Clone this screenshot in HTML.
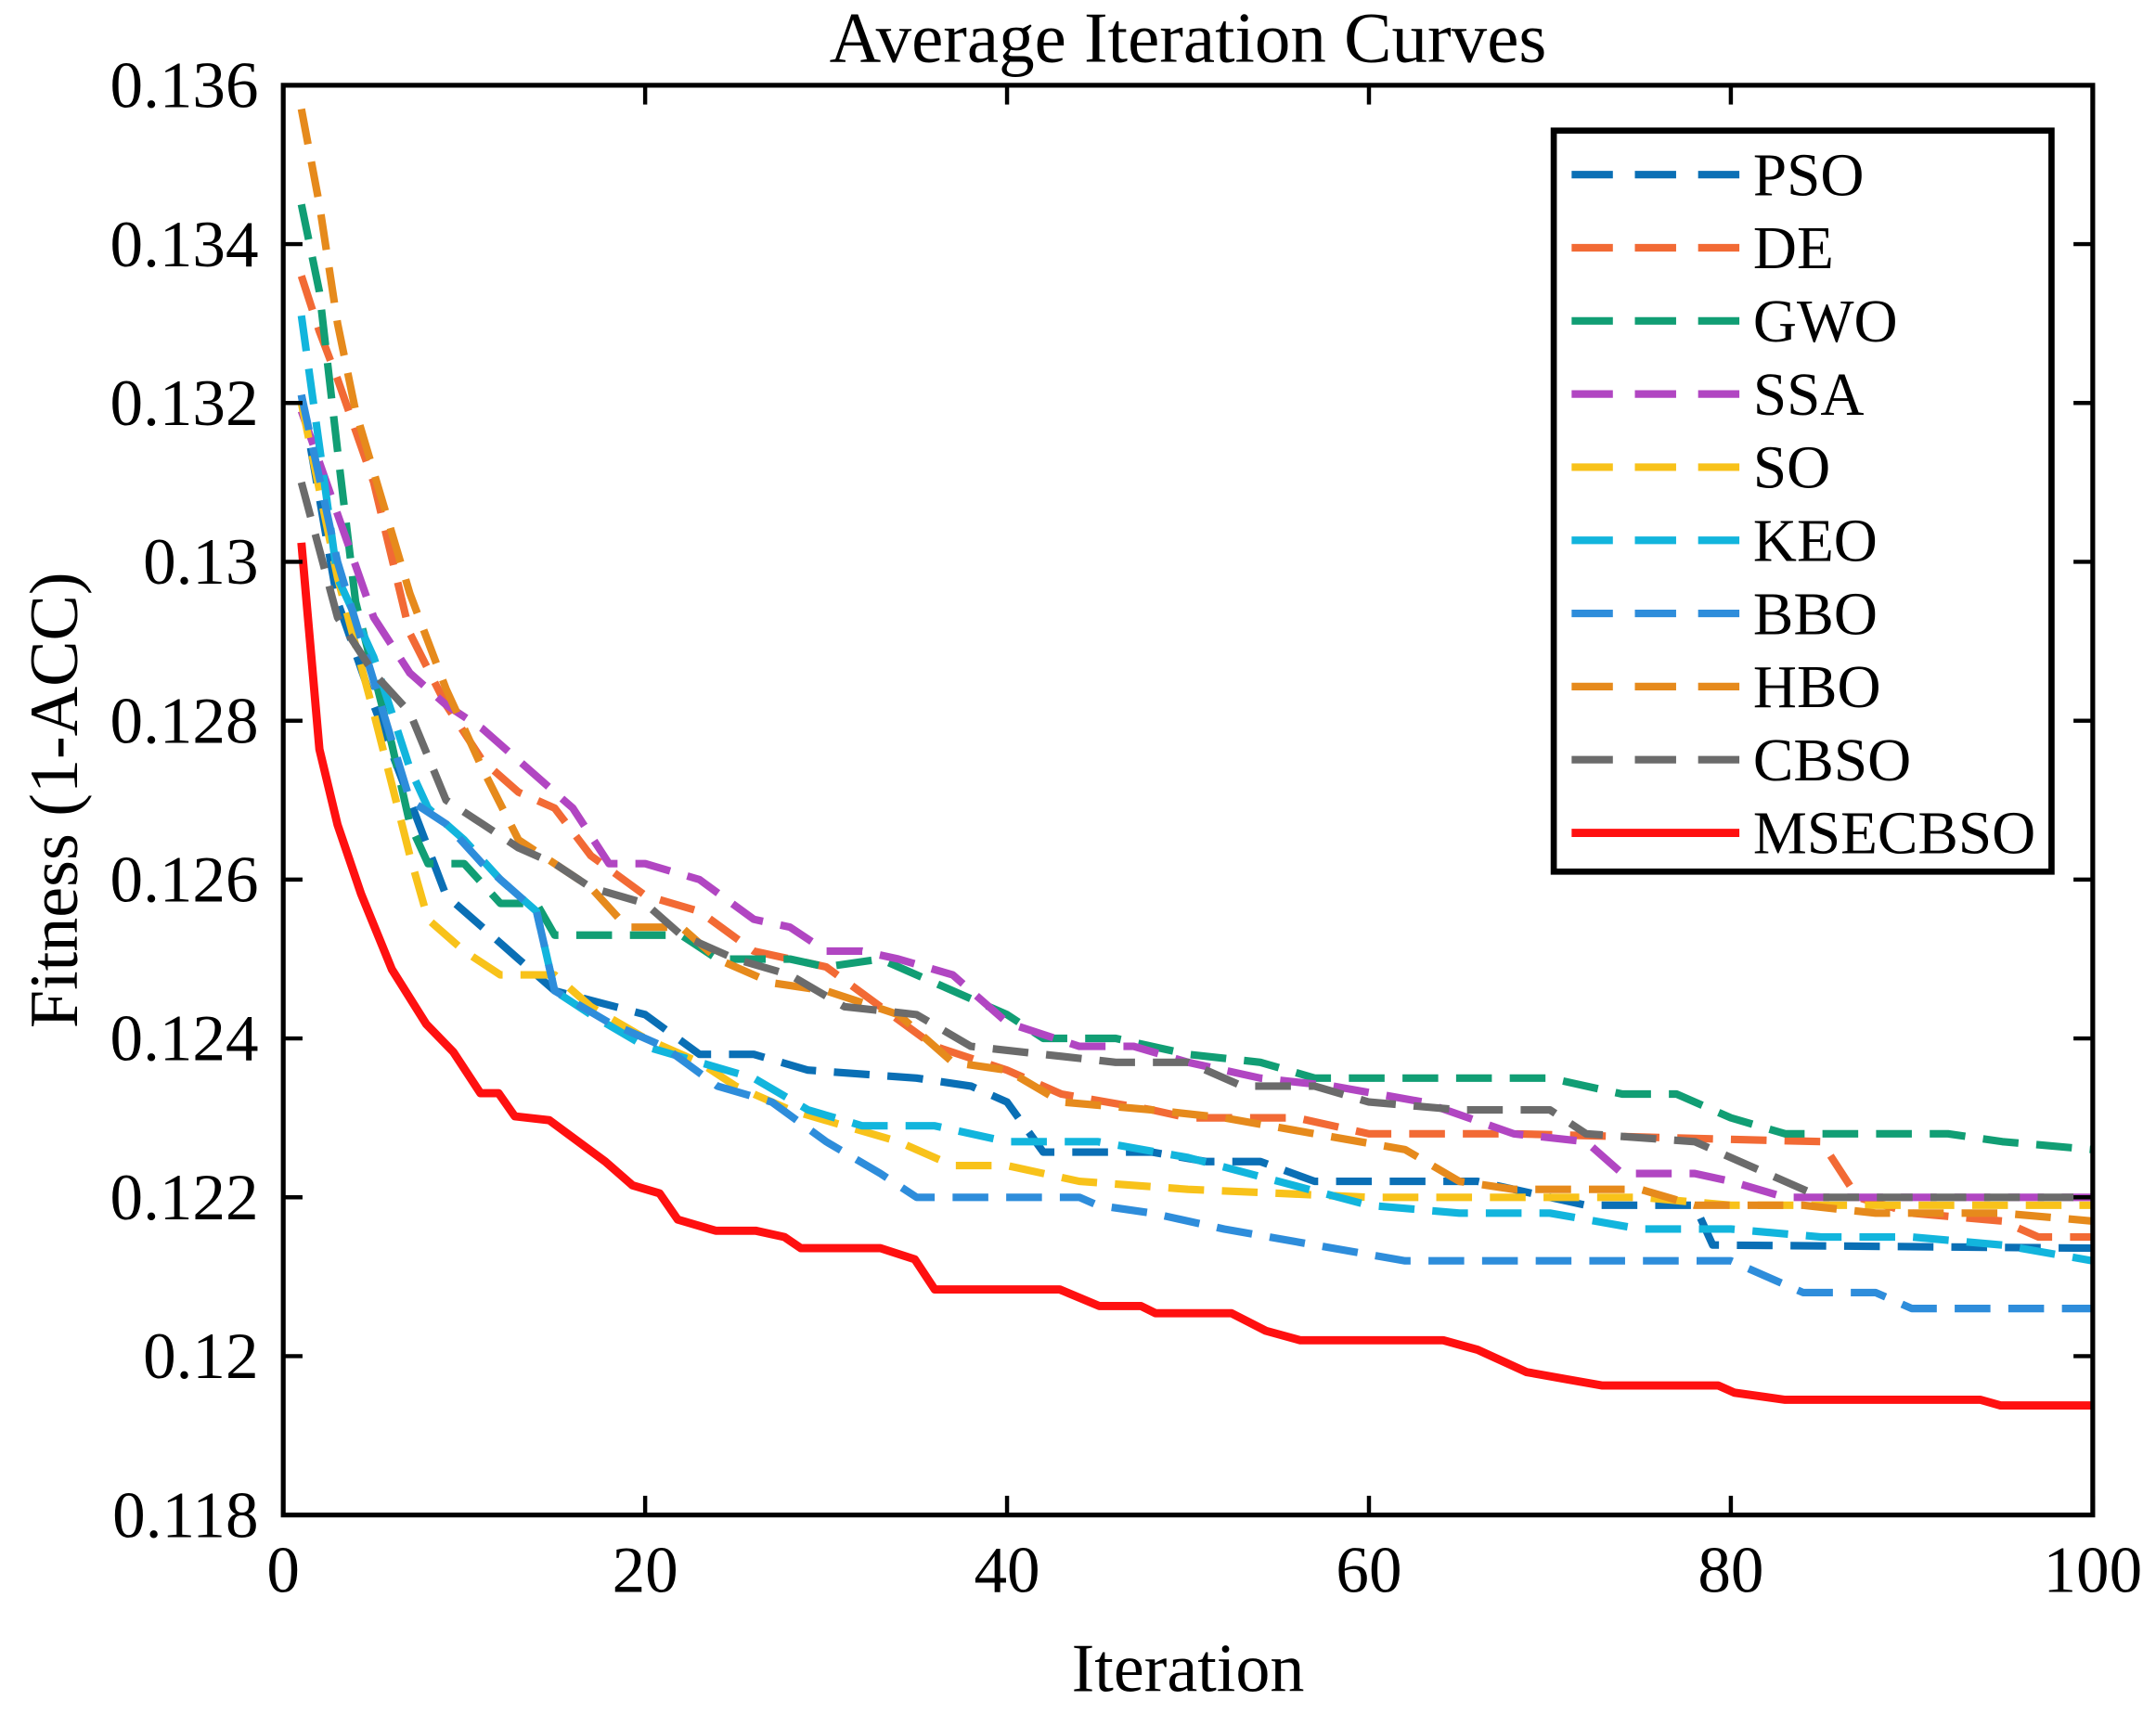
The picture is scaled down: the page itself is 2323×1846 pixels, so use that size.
<!DOCTYPE html>
<html>
<head>
<meta charset="utf-8">
<style>
  html,body{margin:0;padding:0;background:#fff;}
  svg{display:block;}
  text{font-family:"Liberation Serif",serif;fill:#000;}
</style>
</head>
<body>
<svg id="chart" width="2323" height="1846" viewBox="0 0 1568 1246" xmlns="http://www.w3.org/2000/svg">
  <rect x="0" y="0" width="1568" height="1246" fill="#fff"/>
  <text x="864" y="45" font-size="52" text-anchor="middle">Average Iteration Curves</text>
  <g id="plot"></g>
  <g id="axes"></g>
  <text x="864" y="1230" font-size="50" text-anchor="middle">Iteration</text>
  <text transform="translate(56,582) rotate(-90)" font-size="50" text-anchor="middle">Fitness (1-ACC)</text>
  <g id="legend"></g>
</svg>
<script>
const xTicks = [0, 20, 40, 60, 80, 100];
const yTicks = [0.118, 0.12, 0.122, 0.124, 0.126, 0.128, 0.13, 0.132, 0.134, 0.136];
const yTickLabels = ["0.118", "0.12", "0.122", "0.124", "0.126", "0.128", "0.13", "0.132", "0.134", "0.136"];
const seriesNames = ["PSO", "DE", "GWO", "SSA", "SO", "KEO", "BBO", "HBO", "CBSO", "MSECBSO"];

const psoX = [1,3,5,7,9,11,13,15,20,23,26,29,35,38,40,42,48,51,54,57,66,70,72,78,79,100];
const psoY = [0.1321,0.1295,0.1282,0.1270,0.1258,0.1254,0.1250,0.1246,0.1243,0.1238,0.1238,0.1236,0.1235,0.1234,0.1232,0.12257,0.12257,0.12245,0.12245,0.1222,0.1222,0.1220,0.1219,0.1219,0.1214,0.12136];

const deX = [1,2,3,5,7,9,11,13,15,17,20,23,26,30,33,36,40,43,48,50,56,60,64,68,85,87,90,95,97,100];
const deY = [0.1336,0.1329,0.1323,0.1310,0.1291,0.1282,0.1275,0.1271,0.1269,0.1263,0.1258,0.1256,0.1251,0.1249,0.1244,0.1239,0.1236,0.1233,0.1231,0.1230,0.1230,0.1228,0.1228,0.1228,0.1227,0.1220,0.1218,0.1217,0.1215,0.1215];

const gwoX = [1,2,3,4,6,7,8,10,12,14,15,20,22,24,28,30,33,36,40,42,46,50,54,57,70,74,77,80,83,92,95,100];
const gwoY = [0.1345,0.1334,0.1314,0.1295,0.1277,0.1267,0.1262,0.1262,0.1257,0.1257,0.1253,0.1253,0.1253,0.1250,0.1250,0.1249,0.1250,0.1247,0.1243,0.1240,0.1240,0.1238,0.1237,0.1235,0.1235,0.1233,0.1233,0.1230,0.1228,0.1228,0.1227,0.1226];

const ssaX = [1,3,5,7,9,11,13,16,18,20,23,26,28,30,32,34,37,40,44,47,50,54,58,63,68,72,74,78,80,83,100];
const ssaY = [0.1319,0.1306,0.1293,0.1286,0.1282,0.1279,0.1275,0.1269,0.1262,0.1262,0.1260,0.1255,0.1254,0.1251,0.1251,0.1250,0.1248,0.1242,0.1239,0.1239,0.1237,0.1235,0.1234,0.1232,0.1228,0.1227,0.1223,0.1223,0.1222,0.1220,0.1220];

const soX = [1,3,5,7,8,10,12,15,17,20,23,25,28,31,34,37,40,44,50,60,70,75,80,83,100];
const soY = [0.1320,0.1298,0.1281,0.1263,0.1255,0.1251,0.1248,0.1248,0.1244,0.1240,0.1237,0.1234,0.1231,0.1229,0.1227,0.1224,0.1224,0.1222,0.1221,0.1220,0.1220,0.1220,0.1219,0.1219,0.1219];

const keoX = [1,3,5,7,8,10,12,14,15,17,20,23,26,29,32,36,40,45,50,55,60,65,70,75,80,85,90,95,100];
const keoY = [0.1331,0.1298,0.1288,0.1274,0.1269,0.1265,0.1260,0.1256,0.1246,0.1243,0.1239,0.1237,0.1235,0.1231,0.1229,0.1229,0.1227,0.1227,0.1225,0.1222,0.1219,0.1218,0.1218,0.1216,0.1216,0.1215,0.1215,0.1214,0.1212];

const bboX = [1,3,5,7,9,11,14,15,18,21,24,27,30,33,35,40,44,45,48,52,57,62,66,80,82,84,88,90,100];
const bboY = [0.1321,0.1300,0.1285,0.1270,0.1267,0.1262,0.1256,0.1246,0.1242,0.1239,0.1234,0.1232,0.1227,0.1223,0.1220,0.1220,0.1220,0.1219,0.1218,0.1216,0.1214,0.1212,0.1212,0.1212,0.1210,0.1208,0.1208,0.1206,0.1206];

const hboX = [1,2,3,4,7,9,11,13,15,17,19,22,24,27,30,34,37,40,43,48,52,57,62,65,68,75,78,84,88,95,100];
const hboY = [0.1357,0.1345,0.1330,0.1319,0.1296,0.1284,0.1274,0.1265,0.1262,0.1259,0.1254,0.1254,0.1250,0.1247,0.1246,0.1243,0.1237,0.1236,0.1232,0.1231,0.1230,0.1228,0.1226,0.1222,0.1221,0.1221,0.1219,0.1219,0.1218,0.1218,0.1217];

const cbsoX = [1,3,5,7,9,11,13,15,17,20,22,25,28,31,35,38,42,46,50,53,57,60,65,70,72,78,82,85,100];
const cbsoY = [0.1310,0.1293,0.1286,0.1281,0.1270,0.1267,0.1264,0.1262,0.1259,0.1257,0.1253,0.1250,0.1248,0.1244,0.1243,0.1239,0.1238,0.1237,0.1237,0.1234,0.1234,0.1232,0.1231,0.1231,0.1228,0.1227,0.1223,0.1220,0.1220];

const msecbsoX = [1,2,3,4.3,6,7.9,9.4,10.9,11.9,12.8,14.7,17.8,19.3,20.8,21.8,23.9,26.1,27.7,28.6,33,34.9,36,42.9,45.1,47.4,48.2,52.4,54.3,56.2,64.1,66,68.7,70.9,72.9,79.3,80.2,83,93.8,94.9,100];
const msecbsoY = [0.13024,0.12764,0.12669,0.12582,0.12487,0.12418,0.12383,0.12331,0.12331,0.12302,0.12297,0.12245,0.12215,0.12205,0.12172,0.12158,0.12158,0.1215,0.12136,0.12136,0.12122,0.12084,0.12084,0.12063,0.12063,0.12054,0.12054,0.12032,0.1202,0.1202,0.12008,0.1198,0.11971,0.11963,0.11963,0.11954,0.11945,0.11945,0.11938,0.11938];

const NS = "http://www.w3.org/2000/svg";
const L = 206, R = 1522, T = 62, B = 1102;
const xMin = 0, xMax = 100, yMin = 0.118, yMax = 0.136;
function sx(v){ return L + (v - xMin) / (xMax - xMin) * (R - L); }
function sy(v){ return B - (v - yMin) / (yMax - yMin) * (B - T); }
function mk(tag, attrs, parent){
  const e = document.createElementNS(NS, tag);
  for (const k in attrs) e.setAttribute(k, attrs[k]);
  parent.appendChild(e);
  return e;
}

const plot = document.getElementById('plot');
const axes = document.getElementById('axes');
const legend = document.getElementById('legend');

const series = [
  {name: seriesNames[0], xs: psoX, ys: psoY, color: "#0A6FB5", dash: true},
  {name: seriesNames[1], xs: deX, ys: deY, color: "#F26A35", dash: true},
  {name: seriesNames[2], xs: gwoX, ys: gwoY, color: "#119E74", dash: true},
  {name: seriesNames[3], xs: ssaX, ys: ssaY, color: "#B146C2", dash: true},
  {name: seriesNames[4], xs: soX, ys: soY, color: "#F8C21A", dash: true},
  {name: seriesNames[5], xs: keoX, ys: keoY, color: "#12B5DD", dash: true},
  {name: seriesNames[6], xs: bboX, ys: bboY, color: "#2E8DDB", dash: true},
  {name: seriesNames[7], xs: hboX, ys: hboY, color: "#E68A1C", dash: true},
  {name: seriesNames[8], xs: cbsoX, ys: cbsoY, color: "#6B6B6B", dash: true},
  {name: seriesNames[9], xs: msecbsoX, ys: msecbsoY, color: "#FF1010", dash: false}
];

series.forEach(s => {
  const pts = s.xs.map((x, i) => sx(x).toFixed(1) + "," + sy(s.ys[i]).toFixed(1)).join(" ");
  const attrs = {points: pts, fill: "none", stroke: s.color, "stroke-width": s.dash ? 5.5 : 6, "stroke-linejoin": "round"};
  if (s.dash) attrs["stroke-dasharray"] = "26 13";
  const pl = mk('polyline', attrs, plot);
  
  
});

const box = mk('rect', {x: L, y: T, width: R - L, height: B - T, fill: "none", stroke: "#000", "stroke-width": 3.5}, axes);



xTicks.forEach(v => {
  const x = sx(v);
  const t1 = mk('line', {x1: x, y1: B, x2: x, y2: B - 14, stroke: "#000", "stroke-width": 3}, axes);
  
  
  const t2 = mk('line', {x1: x, y1: T, x2: x, y2: T + 14, stroke: "#000", "stroke-width": 3}, axes);
  
  
  const lb = mk('text', {x: x, y: B + 56, "font-size": 48, "text-anchor": "middle"}, axes);
  lb.textContent = String(v);
  
  
});

yTicks.forEach((v, i) => {
  const y = sy(v);
  const t1 = mk('line', {x1: L, y1: y, x2: L + 14, y2: y, stroke: "#000", "stroke-width": 3}, axes);
  
  
  const t2 = mk('line', {x1: R, y1: y, x2: R - 14, y2: y, stroke: "#000", "stroke-width": 3}, axes);
  
  
  const lb = mk('text', {x: 188, y: y + 16, "font-size": 48, "text-anchor": "end"}, axes);
  lb.textContent = yTickLabels[i];
  
  
});

const lbox = mk('rect', {x: 1130, y: 95, width: 362, height: 539, fill: "#fff", stroke: "#000", "stroke-width": 4.5}, legend);


series.forEach((s, i) => {
  const y = 127 + i * 53.2;
  const g = mk('g', {}, legend);
  
  
  const attrs = {x1: 1143, y1: y, x2: 1265, y2: y, stroke: s.color, "stroke-width": s.dash ? 5.5 : 6};
  if (s.dash) attrs["stroke-dasharray"] = "30 16";
  const ln = mk('line', attrs, g);
  
  
  const tx = mk('text', {x: 1275, y: y + 15, "font-size": 44}, g);
  tx.textContent = s.name;
  
  
});
</script>
</body>
</html>
